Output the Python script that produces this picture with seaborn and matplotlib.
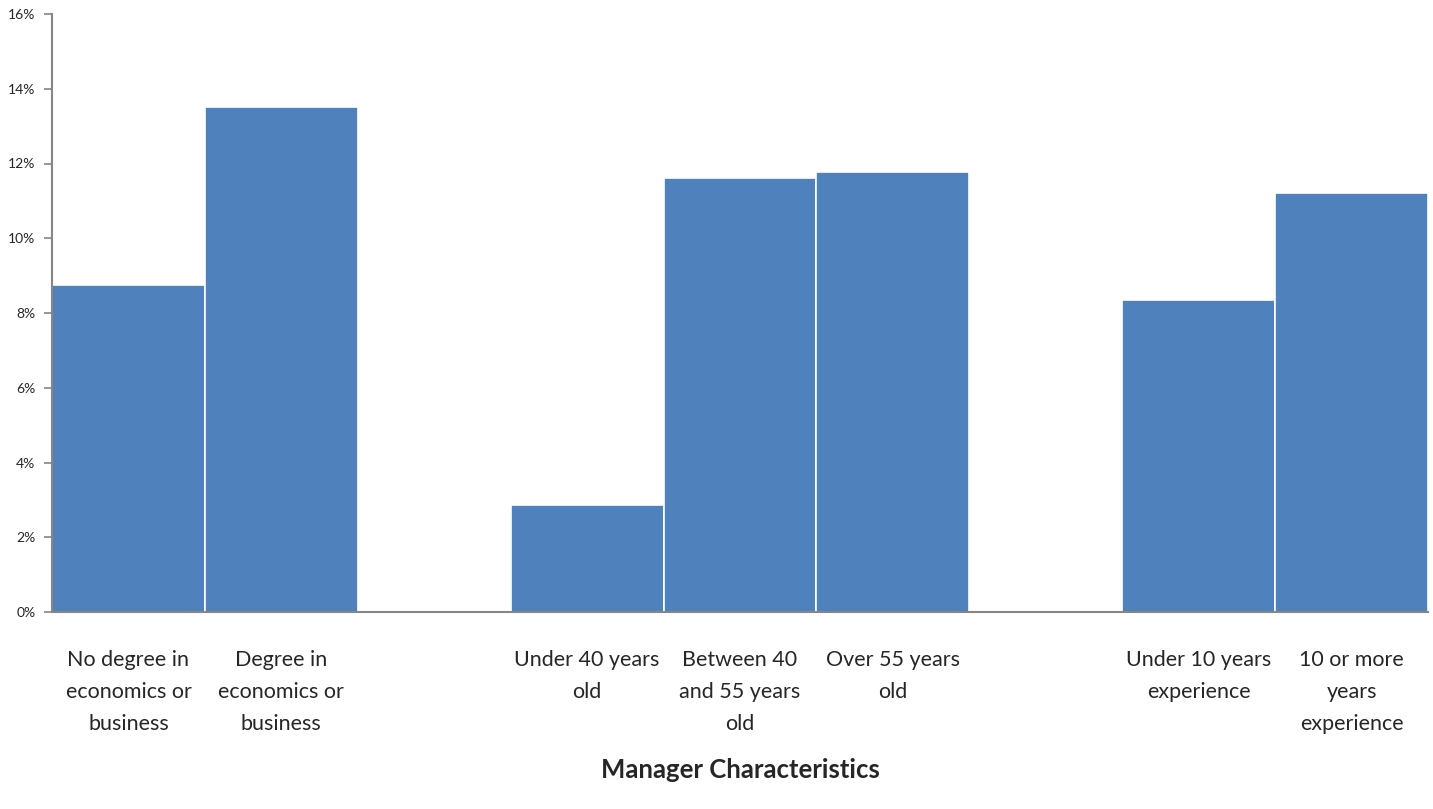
import matplotlib
matplotlib.use("Agg")
import matplotlib.pyplot as plt
from matplotlib.ticker import PercentFormatter
import seaborn as sns
import pandas as pd

categories = [
    "No degree in\neconomics or\nbusiness",
    "Degree in\neconomics or\nbusiness",
    "Under 40 years\nold",
    "Between 40\nand 55 years\nold",
    "Over 55 years\nold",
    "Under 10 years\nexperience",
    "10 or more\nyears\nexperience",
]
values = [8.75, 13.5, 2.87, 11.62, 11.78, 8.35, 11.22]
# blank slots separate the three groups
slot_order = [categories[0], categories[1], " ",
              categories[2], categories[3], categories[4], "  ",
              categories[5], categories[6]]

df = pd.DataFrame({"group": categories, "share": values})

sns.set_style("white")
plt.rcParams["font.family"] = ["Lato", "DejaVu Sans"]

fig = plt.figure(figsize=(14.33, 8.09), dpi=100)
ax = fig.add_axes([52 / 1433, (809 - 612) / 809, (1428 - 52) / 1433, (612 - 14) / 809])

sns.barplot(data=df, x="group", y="share", order=slot_order, color="#4F81BD",
            saturation=1, width=1.0, edgecolor="white", linewidth=1.2, ax=ax)

ax.set_xlim(-0.5, len(slot_order) - 0.5)
ax.set_ylim(0, 16)
ax.set_yticks(range(0, 17, 2))
ax.yaxis.set_major_formatter(PercentFormatter(decimals=0))
ax.tick_params(axis="y", direction="out", length=6, width=1.2, color="#868686",
               labelsize=10, pad=6, left=True)
ax.tick_params(axis="x", length=0, labelsize=15.5, pad=27)
for lbl in ax.get_xticklabels():
    lbl.set_linespacing(1.75)

for side in ("top", "right"):
    ax.spines[side].set_visible(False)
for side in ("left", "bottom"):
    ax.spines[side].set_color("#868686")
    ax.spines[side].set_linewidth(1.5)

ax.set_ylabel("")
ax.set_xlabel("Manager Characteristics", fontsize=18.5, fontweight="bold", labelpad=18)

fig.savefig("out.png", dpi=100)
